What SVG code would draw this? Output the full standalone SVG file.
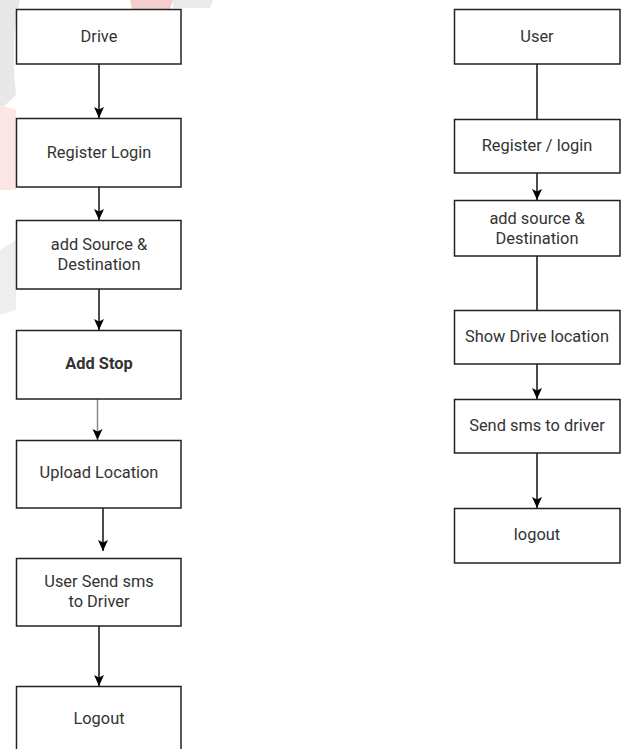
<svg xmlns="http://www.w3.org/2000/svg" width="622" height="749" viewBox="0 0 622 749">
<defs>
<style>
.box{fill:#fff;stroke:#222;stroke-width:1.5}
.t{font-family:Roboto,"Liberation Sans",sans-serif;font-size:16.4px;fill:#333;text-anchor:middle}
.b{font-weight:bold}
.ln{stroke:#111;stroke-width:1.5;fill:none}
</style>
<marker id="ah" markerUnits="userSpaceOnUse" markerWidth="14" markerHeight="14" viewBox="0 0 14 14" refX="11" refY="7" orient="auto">
<path d="M0,2 L11,7 L0,12 L2.5,7 Z" fill="#000"/>
</marker>
</defs>
<rect width="622" height="749" fill="#fff"/>
<g id="watermark" opacity="0.9">
<path d="M0,0 L20,0 Q10,40 16,95 L0,110 Z" fill="#e6e6e6"/>
<path d="M0,105 L16,110 L16,190 L0,190 Z" fill="#fbe3e3"/>
<path d="M130,0 L173,0 L170,9 L132,9 Z" fill="#f7c9c9"/>
<path d="M173,0 L213,0 L210,8 L173,8 Z" fill="#e8e8e8"/>
<path d="M0,250 L16,240 L16,310 L0,315 Z" fill="#ececec"/>
</g>
<g id="connectors">
<line class="ln" x1="99" y1="64" x2="99" y2="118" marker-end="url(#ah)"/>
<line class="ln" x1="99" y1="187" x2="99" y2="220" marker-end="url(#ah)"/>
<line class="ln" x1="99" y1="289" x2="99" y2="330" marker-end="url(#ah)"/>
<line class="ln" x1="97.5" y1="399" x2="97.5" y2="440" marker-end="url(#ah)" style="stroke:#888"/>
<line class="ln" x1="103" y1="508" x2="103" y2="551" marker-end="url(#ah)"/>
<line class="ln" x1="99" y1="626" x2="99" y2="686" marker-end="url(#ah)"/>
<line class="ln" x1="537" y1="64" x2="537" y2="119"/>
<line class="ln" x1="537" y1="173" x2="537" y2="200" marker-end="url(#ah)"/>
<line class="ln" x1="537" y1="256" x2="537" y2="310"/>
<line class="ln" x1="537" y1="364" x2="537" y2="399" marker-end="url(#ah)"/>
<line class="ln" x1="537" y1="453" x2="537" y2="508" marker-end="url(#ah)"/>
</g>
<g id="drive"><rect class="box" x="16.5" y="9.5" width="164.5" height="54.5"/><text class="t" x="99" y="42">Drive</text></g>
<g id="register-login"><rect class="box" x="16.5" y="118.5" width="164.5" height="68.5"/><text class="t" x="99" y="158">Register Login</text></g>
<g id="add-source"><rect class="box" x="16.5" y="220.5" width="164.5" height="68.5"/><text class="t" x="99" y="250">add Source &amp;</text><text class="t" x="99" y="270">Destination</text></g>
<g id="add-stop"><rect class="box" x="16.5" y="330.5" width="164.5" height="68.5"/><text class="t b" x="99" y="369">Add Stop</text></g>
<g id="upload-location"><rect class="box" x="16.5" y="440.5" width="164.5" height="67.5"/><text class="t" x="99" y="478">Upload Location</text></g>
<g id="user-send-sms"><rect class="box" x="16.5" y="558.5" width="164.5" height="67.5"/><text class="t" x="99" y="587">User Send sms</text><text class="t" x="99" y="607">to Driver</text></g>
<g id="logout-left"><rect class="box" x="16.5" y="686.5" width="164.5" height="68"/><text class="t" x="99" y="724">Logout</text></g>
<g id="user"><rect class="box" x="454.5" y="9.5" width="165.5" height="54.5"/><text class="t" x="537" y="42">User</text></g>
<g id="register-login-right"><rect class="box" x="454.5" y="119.5" width="165.5" height="53.5"/><text class="t" x="537" y="151">Register / login</text></g>
<g id="add-source-right"><rect class="box" x="454.5" y="200.5" width="165.5" height="55.5"/><text class="t" x="537" y="224">add source &amp;</text><text class="t" x="537" y="244">Destination</text></g>
<g id="show-drive-location"><rect class="box" x="454.5" y="310.5" width="165.5" height="53.5"/><text class="t" x="537" y="342">Show Drive location</text></g>
<g id="send-sms"><rect class="box" x="454.5" y="399.5" width="165.5" height="53.5"/><text class="t" x="537" y="431">Send sms to driver</text></g>
<g id="logout-right"><rect class="box" x="454.5" y="508.5" width="165.5" height="54.5"/><text class="t" x="537" y="540">logout</text></g>
</svg>
